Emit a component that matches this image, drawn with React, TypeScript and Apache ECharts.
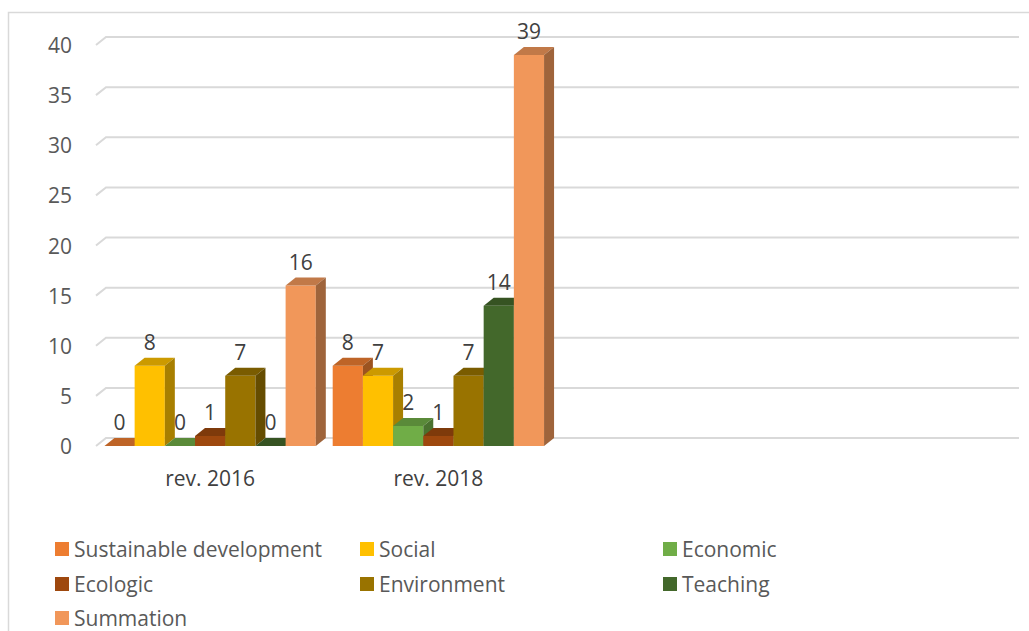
import React, { useEffect, useRef } from "react";
import * as echarts from "echarts";

const categories = ["rev. 2016", "rev. 2018", "", ""];
const seriesNames = [
  "Sustainable development",
  "Social",
  "Economic",
  "Ecologic",
  "Environment",
  "Teaching",
  "Summation",
];
const sustainable = [0, 8];
const social = [8, 7];
const economic = [0, 2];
const ecologic = [1, 1];
const environment = [7, 7];
const teaching = [0, 14];
const summation = [16, 39];
const yTicks = [0, 5, 10, 15, 20, 25, 30, 35, 40];

const seriesValues = [sustainable, social, economic, ecologic, environment, teaching, summation];
const colors = ["#ED7D31", "#FFC000", "#70AD47", "#9E480E", "#997300", "#43682B", "#F1975A"];

// legend slots: [left, row-center]
const legendSlots = [
  [55, 549],
  [360, 549],
  [663, 549],
  [55, 584],
  [360, 584],
  [663, 584],
  [55, 618],
];

const FONT = '"Open Sans", "Noto Sans", sans-serif';
const FS = 21;
const DX = 10;
const DY = -8;
const GAP = 0.074;

function shade(hex: string, f: number) {
  const n = parseInt(hex.slice(1), 16);
  const r = Math.round(((n >> 16) & 255) * f);
  const g = Math.round(((n >> 8) & 255) * f);
  const b = Math.round((n & 255) * f);
  return `rgb(${r},${g},${b})`;
}

export default function App() {
  const ref = useRef<HTMLDivElement>(null);
  useEffect(() => {
    if (!ref.current) return;
    const chart = echarts.init(ref.current, undefined, { renderer: "svg" });
    const N = seriesNames.length;

    const barSeries = seriesNames.map((name, sIdx) => {
      const front = colors[sIdx];
      const topC = shade(front, 0.8);
      const sideC = shade(front, 0.66);
      return {
        type: "custom",
        name,
        itemStyle: { color: front },
        data: seriesValues[sIdx].map((v, i) => [i, v]),
        encode: { x: 0, y: 1 },
        z: 3,
        renderItem: (params: any, api: any) => {
          const cat = api.value(0);
          const v = api.value(1);
          const base = api.coord([cat, 0]);
          const top = api.coord([cat, v]);
          const band = api.size([1, 0])[0];
          const groupW = band * (1 - GAP);
          const barW = groupW / N;
          const x0 = base[0] - groupW / 2 + sIdx * barW;
          const yb = base[1];
          const yt = top[1];
          return {
            type: "group",
            children: [
              { type: "rect", shape: { x: x0, y: yt, width: barW, height: yb - yt }, style: { fill: front } },
              {
                type: "polygon",
                shape: { points: [[x0, yt], [x0 + barW, yt], [x0 + barW + DX, yt + DY], [x0 + DX, yt + DY]] },
                style: { fill: topC },
              },
              {
                type: "polygon",
                shape: { points: [[x0 + barW, yt], [x0 + barW + DX, yt + DY], [x0 + barW + DX, yb + DY], [x0 + barW, yb]] },
                style: { fill: sideC },
              },
              {
                type: "text",
                style: {
                  text: String(v),
                  x: x0 + barW / 2,
                  y: yt - 24,
                  align: "center",
                  verticalAlign: "middle",
                  fill: "#404040",
                  font: `${FS}px ${FONT}`,
                },
              },
            ],
          };
        },
      };
    });

    const wallSeries = {
      type: "custom",
      name: "__wall",
      silent: true,
      z: 1,
      data: yTicks.map((v) => [0, v]),
      encode: { x: 0, y: 1 },
      renderItem: (params: any, api: any) => {
        const v = api.value(1);
        const y = api.coord([0, v])[1];
        const cs = params.coordSys;
        const xL = cs.x;
        const xR = cs.x + cs.width;
        return {
          type: "polyline",
          shape: { points: [[xL, y], [xL + DX, y + DY], [xR + DX, y + DY]] },
          style: { stroke: "#d9d9d9", lineWidth: 2, fill: "none" },
        };
      },
    };

    const legends = seriesNames.map((name, i) => ({
      orient: "horizontal",
      icon: "rect",
      itemWidth: 14,
      itemHeight: 14,
      padding: 0,
      textStyle: { fontSize: FS, color: "#595959", fontFamily: FONT, lineHeight: FS },
      left: legendSlots[i][0],
      top: legendSlots[i][1] - FS / 2,
      selectedMode: false,
      data: [name],
    }));

    chart.setOption({
      animation: false,
      backgroundColor: "#ffffff",
      graphic: [
        {
          type: "rect",
          shape: { x: 8.5, y: 12.5, width: 1200, height: 800 },
          style: { fill: "none", stroke: "#d9d9d9", lineWidth: 1.5 },
          silent: true,
        },
      ],
      grid: { left: 96, right: 20, top: 45, bottom: 185, containLabel: false },
      xAxis: {
        type: "category",
        data: categories,
        axisLine: { show: false },
        axisTick: { show: false },
        axisLabel: { fontSize: FS, color: "#404040", fontFamily: FONT, margin: 21 },
        splitLine: { show: false },
      },
      yAxis: {
        type: "value",
        min: 0,
        max: 40,
        interval: 5,
        axisLine: { show: false },
        axisTick: { show: false },
        splitLine: { show: false },
        axisLabel: { fontSize: FS, color: "#595959", fontFamily: FONT, margin: 24 },
      },
      legend: legends,
      series: [wallSeries, ...barSeries],
    });
    return () => chart.dispose();
  }, []);
  return (
    <div
      ref={ref}
      style={{ position: "fixed", left: 0, top: 0, width: 1029, height: 631, background: "#fff" }}
    />
  );
}
